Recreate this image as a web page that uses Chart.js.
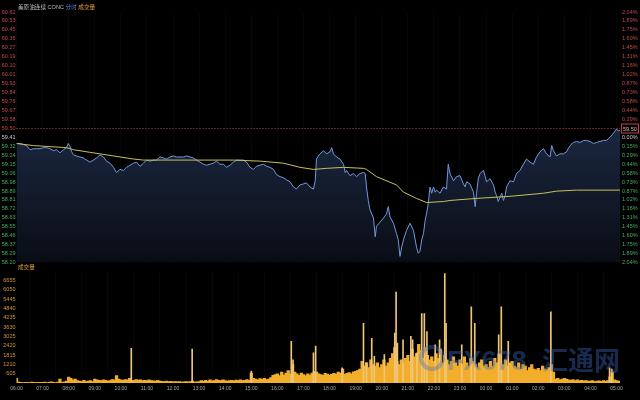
<!DOCTYPE html>
<html><head><meta charset="utf-8">
<script src="https://cdn.jsdelivr.net/npm/chart.js@4.4.0/dist/chart.umd.min.js"></script>
<style>
html,body{margin:0;padding:0;background:#000;width:640px;height:400px;overflow:hidden}
#p{position:absolute;left:0;top:0;width:640px;height:268px}
#v{position:absolute;left:0;top:262px;width:640px;height:138px}
</style></head><body>
<div id="p"><canvas id="pc"></canvas></div>
<div id="v"><canvas id="vc"></canvas></div>
<script>
// ---------- data ----------
const hourLabels = ['06:00','07:00','08:00','09:00','10:00','11:00','12:00','13:00','14:00','15:00','16:00','17:00','18:00','19:00','20:00','21:00','22:00','23:00','00:00','01:00','02:00','03:00','04:00','05:00'];
const leftLabels = ['58.20','58.29','58.37','58.46','58.55','58.63','58.72','58.81','58.89','58.98','59.06','59.15','59.24','59.32','59.41','59.50','59.58','59.67','59.76','59.84','59.93','60.01','60.10','60.19','60.27','60.36','60.45','60.53','60.62'];
const rightLabels = ['2.04%','1.89%','1.75%','1.60%','1.45%','1.31%','1.16%','1.02%','0.87%','0.73%','0.58%','0.44%','0.29%','0.15%','0.00%','0.15%','0.29%','0.44%','0.58%','0.73%','0.87%','1.02%','1.16%','1.31%','1.45%','1.60%','1.75%','1.89%','2.04%'];
const volTicks = [605,1210,1815,2420,3025,3630,4235,4840,5445,6050,6655];
const lastPrice = 59.50;
const lastPriceLabel = '59.50';

// minutes after 06:00
const priceMin = [0,8,16,23,31,39,46,54,62,69,77,85,92,100,108,115,119,123,127,
131,138,146,154,161,169,177,184,192,200,207,215,223,230,238,246,253,261,269,276,
284,292,299,307,315,322,330,338,345,353,361,368,376,384,391,399,407,414,422,430,
437,445,453,460,468,476,483,491,499,506,514,522,529,537,545,552,560,568,575,583,
591,598,606,614,621,629,637,644,652,660,667,675,
683,687,690,694,698,706,713,721,725,729,736,744,752,756,759,767,775,782,790,798,802,805,809,813,821,825,828,836,844,851,855,859,867,874,878,882,886,890,897,905,913,920,924,928,932,936,940,943,947,951,955,959,963,966,974,982,989,993,997,1005,1012,1020,1028,1032,1035,1043,1051,1055,1058,1062,1066,1074,1078,1081,1089,1097,1101,1104,1108,1112,1116,1120,1124,1127,1135,1143,1150,1158,1166,1173,1181,1189,1196,1204,1212,1219,1227,1231,1235,1242,1250,1258,1265,1273,1281,1288,1296,1304,1311,1319,1327,1334,1342,1350,1357,1365,1373,1380,1384,1388];
const priceVal = [59.35,59.35,59.34,59.33,59.29,59.30,59.30,59.30,59.31,59.31,59.30,59.28,59.29,59.26,59.29,59.31,59.35,59.32,59.27,
59.24,59.23,59.22,59.21,59.19,59.17,59.19,59.21,59.24,59.22,
59.18,59.16,59.12,59.07,59.10,59.09,59.12,59.14,59.16,59.17,
59.13,59.16,59.19,59.18,59.19,59.19,59.22,59.21,59.20,59.22,
59.23,59.22,59.22,59.22,59.23,59.22,59.21,59.19,59.17,59.15,
59.14,59.15,59.16,59.18,59.15,59.15,59.12,59.14,59.17,59.19,
59.19,59.19,59.17,59.12,59.10,59.13,59.14,59.15,59.13,59.12,
59.10,59.05,59.03,59.02,59.00,58.98,58.93,58.91,58.95,58.96,
58.97,58.93,
58.91,58.99,59.20,59.23,59.25,59.28,59.25,59.27,59.31,59.25,59.22,59.20,59.15,59.07,59.09,59.04,59.06,59.03,59.06,59.07,59.06,58.93,58.80,58.71,58.63,58.45,58.55,58.59,58.63,58.67,58.74,58.64,58.58,58.48,58.42,58.26,58.35,58.42,58.51,58.58,58.51,58.35,58.29,58.31,58.42,58.48,58.61,58.67,58.77,58.93,58.87,58.93,58.88,58.90,58.87,58.93,58.91,59.15,59.06,58.99,59.03,59.04,58.96,58.93,58.98,58.96,58.88,58.74,58.87,59.01,59.06,59.09,59.03,58.98,59.01,58.95,58.88,58.85,58.79,58.83,58.87,58.80,58.85,58.93,58.99,58.98,59.06,59.09,59.15,59.20,59.17,59.15,59.22,59.27,59.30,59.25,59.22,59.33,59.28,59.23,59.25,59.25,59.27,59.33,59.36,59.37,59.36,59.38,59.38,59.37,59.35,59.36,59.37,59.38,59.38,59.41,59.45,59.49,59.47,59.48];

const avgMin = [0,39,115,131,192,269,292,345,422,499,560,614,652,683,713,752,798,805,828,874,890,920,943,982,997,1058,1135,1212,1242,1288,1388];
const avgVal = [59.35,59.33,59.31,59.29,59.25,59.20,59.19,59.19,59.19,59.19,59.18,59.16,59.12,59.10,59.11,59.12,59.11,59.10,59.03,58.95,58.88,58.82,58.78,58.79,58.80,58.82,58.84,58.87,58.89,58.90,58.90];

// volume, 5-minute buckets from 06:00
const VOL_STEP = 5;
const volBase = [
300,60,40,30,50,40,30,60,40,30,50,40,
40,60,30,50,80,40,30,60,250,50,80,120,
380,300,200,260,150,120,100,180,90,120,150,100,
260,200,180,150,200,170,130,160,220,200,480,250,
200,180,220,200,300,150,180,220,190,200,150,170,
160,200,150,140,120,180,130,110,100,120,90,110,
80,100,70,90,60,80,100,70,90,120,60,80,
100,150,130,170,120,200,140,160,220,180,150,200,
160,120,150,180,140,190,160,200,150,170,220,180,
650,300,250,200,280,240,300,220,260,350,500,550,
600,480,700,520,650,800,580,1200,700,600,500,650,
550,480,600,520,650,750,700,600,550,500,620,580,
500,560,620,580,700,650,900,560,620,680,600,720,
750,820,900,1400,1100,1300,1000,1500,1200,1100,1300,1000,
1200,1500,1100,1300,1600,1900,2300,1400,1200,1500,1300,1600,
1800,1400,2200,1700,1900,2500,2100,1600,2300,1800,1500,1700,
1400,1900,1600,2200,1300,1800,1500,1200,1400,1700,1300,1100,
1500,1200,1700,1300,1100,1600,1400,1200,1000,1300,1500,1100,
1200,1000,1400,1100,1600,1300,1900,1000,1200,1500,1100,1300,
1400,1100,1000,1300,900,1200,1100,800,1000,1200,900,850,
950,800,1100,900,850,1000,1200,700,250,300,200,260,
300,250,200,180,220,160,200,150,180,140,160,120,
130,150,100,120,140,110,160,130,150,400,700,200,
150,120];
const spikeMin = [264,404,540,632,636,683,688,749,798,805,817,823,846,870,873,876,889,907,911,921,932,938,944,963,973,985,988,1024,1046,1054,1109,1115,1131,1229,1364,1369];
const spikeVal = [2250,2200,770,2700,1500,1950,2400,985,3870,1300,2900,1730,1840,3230,5900,2590,2800,3020,2800,1950,4500,4500,3340,2480,2800,7100,3870,2480,4940,3870,3120,4940,2700,4620,985,900];

// ---------- styling / layout ----------
const FONT = "'Liberation Sans','Noto Sans CJK SC',Arial,sans-serif";
const X_MIN = 0, X_MAX = 1388;
const P_MIN = 58.20, P_MAX = 60.62;
const V_MAX = 7260;
const LEFT_W = 16.5, RIGHT_W = 20;
const RED = '#c04a48', GREEN = '#46b060', WHITE = '#c8c8c8';
const GRID = 'rgba(255,255,255,0.022)';

function evenTicks(labels, min, max) {
  return function (axis) {
    axis.ticks = labels.map((l, i) => ({ value: min + i * (max - min) / (labels.length - 1) }));
  };
}
const hourTicks = axis => { axis.ticks = hourLabels.map((l, i) => ({ value: i * 60 })); };
const mid = (leftLabels.length - 1) / 2;
const sideColor = ctx => ctx.index < mid ? GREEN : (ctx.index === mid ? WHITE : RED);

const pricePlugin = {
  id: 'priceDecor',
  afterDatasetsDraw(chart) {
    const c = chart.ctx, a = chart.chartArea, ys = chart.scales.y;
    const y = Math.round(ys.getPixelForValue(lastPrice)) + 0.5;
    c.save();
    c.strokeStyle = '#b85050'; c.lineWidth = 1; c.setLineDash([1, 2]);
    c.beginPath(); c.moveTo(a.left, y); c.lineTo(a.right, y); c.stroke();
    c.setLineDash([]);
    c.fillStyle = '#000'; c.fillRect(a.right + 1, y - 4.5, 18, 9);
    c.strokeStyle = '#c04040'; c.strokeRect(a.right + 1.5, y - 4.5, 17, 9);
    c.fillStyle = '#e8b0b0'; c.font = '5.5px ' + FONT; c.textBaseline = 'middle'; c.textAlign = 'left';
    c.fillText(lastPriceLabel, a.right + 3, y + 0.5);
    // header
    c.font = '5.6px ' + FONT; c.textBaseline = 'middle';
    let x = 18; const hy = 7.5;
    const parts = [['美原油连续 CONC ', '#bdbdbd'], ['分时 ', '#5a82d8'], ['成交量', '#e0a040']];
    for (const [t, col] of parts) { c.fillStyle = col; c.fillText(t, x, hy); x += c.measureText(t).width; }
    c.restore();
  }
};

const volPlugin = {
  id: 'volDecor',
  afterDatasetsDraw(chart) {
    const c = chart.ctx;
    c.save();
    c.globalAlpha = 0.38;
    c.strokeStyle = '#3f6fcc'; c.lineWidth = 4;
    c.beginPath(); c.arc(432, 96, 11, 0, Math.PI * 2); c.stroke();
    c.fillStyle = '#3f6fcc';
    c.font = 'bold 27px ' + FONT; c.textBaseline = 'alphabetic'; c.textAlign = 'left';
    c.fillText('FX678', 447, 108);
    c.font = 'bold 26px ' + FONT;
    c.fillText('汇通网', 542, 108);
    c.globalAlpha = 1;
    c.fillStyle = '#e0a040'; c.font = '5.6px ' + FONT; c.textBaseline = 'middle';
    c.fillText('成交量', 18, 5);
    c.restore();
  }
};

Chart.defaults.font.family = FONT;
Chart.defaults.animation = false;

function priceFill(ctx) {
  const ch = ctx.chart, a = ch.chartArea;
  if (!a) return 'rgba(30,42,66,0.8)';
  const top = ch.scales.y.getPixelForValue(lastPrice);
  const g = ch.ctx.createLinearGradient(0, top, 0, a.bottom);
  g.addColorStop(0, '#1b2740');
  g.addColorStop(1, '#090d15');
  return g;
}

new Chart(document.getElementById('pc'), {
  type: 'line',
  data: {
    datasets: [
      { label: '均价', data: avgMin.map((m, i) => ({ x: m, y: avgVal[i] })), borderColor: '#c8c05a', borderWidth: 1, pointRadius: 0, fill: false, order: 0 },
      { label: '价格', data: priceMin.map((m, i) => ({ x: m, y: priceVal[i] })), borderColor: '#7198de', borderWidth: 1, pointRadius: 0, fill: 'start', backgroundColor: priceFill, order: 1 }
    ]
  },
  options: {
    responsive: true, maintainAspectRatio: false,
    layout: { padding: { top: 12, bottom: 5.4, left: 0, right: 0 } },
    plugins: { legend: { display: false }, tooltip: { enabled: false } },
    scales: {
      x: { type: 'linear', min: X_MIN, max: X_MAX, afterBuildTicks: hourTicks,
           ticks: { display: false }, grid: { color: GRID, drawTicks: false },
           border: { display: false }, afterFit: ax => { ax.height = 0; } },
      y: { position: 'left', min: P_MIN, max: P_MAX, afterBuildTicks: evenTicks(leftLabels, P_MIN, P_MAX),
           ticks: { autoSkip: false, padding: 1, callback: (v, i) => leftLabels[i], color: sideColor, font: { size: 5.5 } },
           grid: { display: false, drawTicks: false }, border: { display: false }, afterFit: ax => { ax.width = LEFT_W; } },
      y2: { position: 'right', min: P_MIN, max: P_MAX, afterBuildTicks: evenTicks(rightLabels, P_MIN, P_MAX),
           ticks: { autoSkip: false, padding: 2, callback: (v, i) => rightLabels[i], color: sideColor, font: { size: 5.5 } },
           grid: { display: false, drawTicks: false }, border: { display: false }, afterFit: ax => { ax.width = RIGHT_W; } }
    }
  },
  plugins: [pricePlugin]
});

new Chart(document.getElementById('vc'), {
  type: 'bar',
  data: {
    datasets: [
      { label: '成交量', data: volBase.map((v, i) => ({ x: i * VOL_STEP, y: v })), backgroundColor: '#f2ae2a', barThickness: 2.6, grouped: false, order: 1 },
      { label: '成交量峰值', data: spikeMin.map((m, i) => ({ x: m, y: spikeVal[i] })), backgroundColor: '#efc578', barThickness: 1, grouped: false, order: 0 }
    ]
  },
  options: {
    responsive: true, maintainAspectRatio: false,
    layout: { padding: { top: 9, bottom: 0, left: 0, right: 0 } },
    plugins: { legend: { display: false }, tooltip: { enabled: false } },
    scales: {
      x: { type: 'linear', min: X_MIN, max: X_MAX, offset: false, afterBuildTicks: hourTicks,
           ticks: { autoSkip: false, maxRotation: 0, padding: 3, callback: (v, i) => hourLabels[i], color: '#a8a8a8', font: { size: 5 } },
           grid: { color: GRID, drawTicks: false }, border: { display: false },
           afterFit: ax => { ax.height = 17; } },
      y: { position: 'left', min: 0, max: V_MAX, afterBuildTicks: ax => { ax.ticks = volTicks.map(v => ({ value: v })); },
           ticks: { autoSkip: false, padding: 1, callback: v => String(v), color: '#d09a40', font: { size: 5.5 } },
           grid: { display: false, drawTicks: false }, border: { display: false }, afterFit: ax => { ax.width = LEFT_W; } },
      yr: { position: 'right', min: 0, max: V_MAX, ticks: { display: false }, grid: { display: false, drawTicks: false },
           border: { display: false }, afterFit: ax => { ax.width = RIGHT_W; } }
    }
  },
  plugins: [volPlugin]
});
</script>
</body></html>
